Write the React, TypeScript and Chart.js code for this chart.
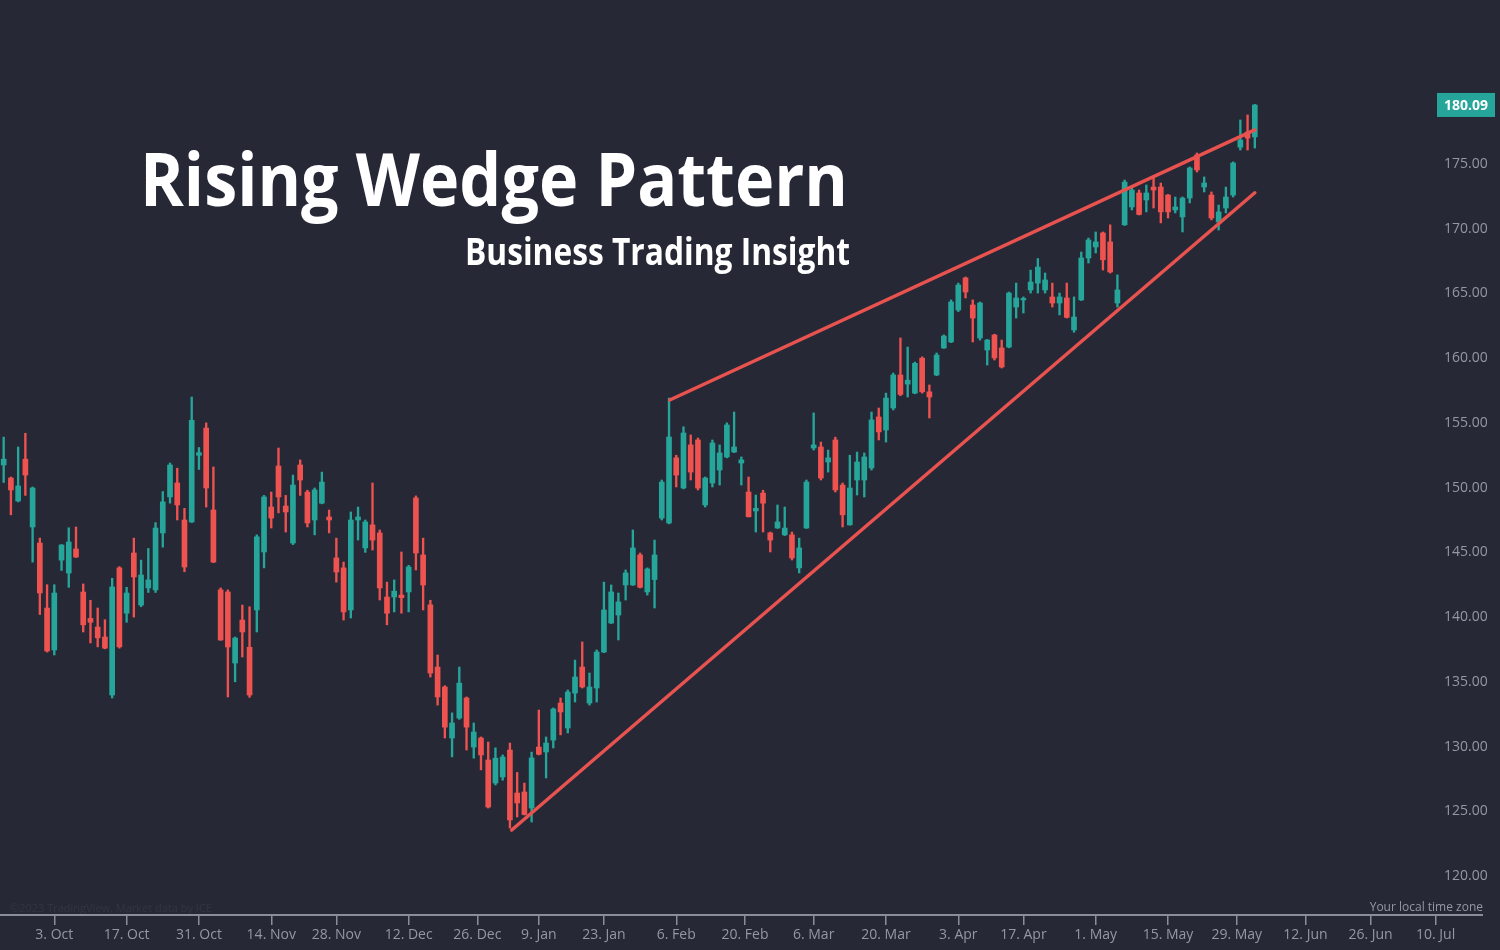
import { useEffect, useRef } from "react";
import { Chart, registerables } from "chart.js";

Chart.register(...registerables);

// Trading-day index of the first candle (3 Oct 2022 = 0)
const FIRST_DAY = -7;

const opens = [
  151.75, 150.74, 148.97, 152.2, 146.96, 145.72, 140.7, 137.46, 144.4, 143.4,
  145.26, 141.94, 139.9, 139.23, 138.46, 133.98, 143.8, 140.3, 144.95, 140.93,
  142.25, 142.1, 146.5, 149.28, 150.36, 147.5, 147.35, 152.5, 154.6, 148.27,
  142.1, 141.94, 136.45, 139.77, 137.67, 140.55, 145.03, 148.5, 151.67, 148.58,
  145.72, 151.75, 149.66, 147.5, 148.8, 147.73, 144.57, 143.8, 140.55, 147.5,
  145.34, 147.12, 146.5, 141.55, 141.55, 141.7, 141.94, 149.2, 144.8, 140.95,
  136.14, 134.6, 130.66, 132.2, 133.75, 129.96, 130.66, 128.96, 127.18, 127.65,
  129.73, 126.41, 126.49, 125.25, 129.96, 129.58, 130.5, 133.36, 131.43, 134.13,
  136.14, 133.36, 134.52, 137.3, 139.54, 140.16, 142.48, 142.48, 144.8, 141.94,
  142.9, 147.65, 147.27, 152.3, 149.97, 153.3, 153.68, 148.66, 150.36, 151.36,
  152.37, 152.75, 151.9, 149.66, 148.2, 149.58, 146.5, 146.88, 146.35, 146.35,
  143.8, 146.88, 153.06, 153.14, 151.98, 153.68, 150.2, 147.12, 150.59, 150.59,
  151.52, 155.46, 154.45, 156.15, 158.7, 158.0, 157.3, 160.0, 157.4, 158.7,
  160.79, 161.25, 163.72, 166.2, 164.11, 161.56, 160.63, 161.79, 160.79, 160.86,
  163.95, 164.5, 165.27, 165.8, 165.27, 164.73, 164.26, 164.65, 162.18, 164.5,
  167.74, 168.59, 169.67, 168.98, 164.26, 170.3, 171.68, 172.76, 172.22, 173.22,
  173.22, 172.6, 171.45, 170.91, 172.37, 175.7, 173.22, 172.6, 170.52, 171.6,
  172.6, 176.3, 177.47, 177.09,
];

const highs = [
  153.9, 150.82, 153.14, 154.2, 150.05, 146.1, 142.5, 142.5, 145.6, 146.9,
  146.96, 142.56, 141.3, 140.7, 139.8, 143.0, 143.9, 142.3, 146.1, 144.4,
  145.3, 147.3, 149.7, 151.9, 151.5, 148.4, 157.0, 153.1, 155.0, 151.6,
  142.25, 142.1, 138.46, 140.93, 140.8, 146.35, 149.4, 149.66, 153.06, 149.4,
  150.97, 152.14, 149.8, 149.97, 151.2, 148.27, 146.1, 144.25, 148.12, 148.5,
  147.5, 150.36, 146.73, 142.7, 142.87, 145.03, 144.0, 149.36, 146.1, 141.3,
  137.07, 134.7, 132.6, 136.14, 133.83, 131.82, 130.74, 130.35, 129.9, 129.35,
  130.27, 128.0, 127.18, 129.57, 132.82, 130.74, 132.98, 133.75, 134.37, 136.68,
  138.08, 135.68, 137.46, 142.7, 142.48, 141.86, 143.64, 146.73, 144.95, 143.8,
  145.95, 150.59, 156.92, 152.5, 154.7, 154.07, 153.83, 150.82, 153.68, 153.3,
  155.0, 155.84, 152.37, 150.82, 149.43, 149.8, 146.57, 148.66, 148.5, 146.57,
  146.1, 150.59, 155.77, 153.52, 152.9, 153.9, 150.36, 152.5, 152.75, 152.68,
  155.84, 156.15, 157.3, 158.85, 161.56, 160.86, 159.7, 160.1, 157.93, 160.4,
  161.8, 164.5, 165.8, 166.27, 164.5, 164.34, 161.45, 161.85, 161.4, 165.11,
  165.8, 164.73, 166.8, 167.7, 166.58, 165.8, 165.03, 165.8, 164.73, 168.2,
  169.28, 169.75, 169.75, 170.3, 166.43, 173.76, 173.15, 172.99, 173.38, 174.0,
  173.53, 172.65, 172.45, 172.45, 174.77, 175.85, 174.0, 172.84, 171.83, 173.22,
  175.16, 178.4, 178.79, 179.6,
];

const lows = [
  150.4, 147.9, 148.9, 149.4, 144.25, 140.2, 137.3, 137.07, 143.6, 142.3,
  144.6, 138.85, 138.0, 137.7, 137.55, 133.75, 137.6, 139.6, 140.0, 140.8,
  141.9, 141.9, 145.4, 148.8, 147.5, 143.5, 147.3, 151.4, 148.5, 144.2,
  138.2, 133.83, 135.0, 136.92, 133.8, 138.85, 143.8, 146.88, 148.05, 146.57,
  145.6, 149.4, 146.96, 146.35, 148.75, 146.5, 142.7, 139.77, 139.93, 145.95,
  145.0, 145.18, 141.32, 139.4, 140.4, 140.3, 140.4, 143.64, 140.55, 135.37,
  133.2, 130.66, 129.2, 132.1, 129.73, 129.1, 128.2, 125.25, 127.03, 127.4,
  123.7, 124.56, 124.71, 124.17, 129.35, 127.57, 129.89, 130.9, 131.05, 133.44,
  134.52, 133.2, 133.44, 137.25, 139.5, 138.23, 141.32, 142.45, 142.25, 141.7,
  140.7, 147.5, 147.2, 150.05, 149.9, 150.59, 149.82, 148.5, 150.05, 150.2,
  152.3, 152.7, 150.2, 147.73, 146.57, 146.57, 145.03, 146.85, 146.3, 144.41,
  143.41, 146.85, 152.9, 150.59, 151.2, 149.66, 146.96, 147.1, 149.43, 149.28,
  151.36, 153.68, 153.52, 156.0, 157.1, 157.0, 157.25, 157.3, 155.38, 158.65,
  160.75, 161.2, 163.6, 164.65, 161.25, 161.4, 159.47, 159.86, 159.24, 160.8,
  163.1, 163.49, 165.03, 165.03, 165.03, 163.95, 163.34, 163.1, 162.0, 164.45,
  167.35, 168.13, 166.81, 166.58, 163.95, 170.25, 171.45, 171.06, 171.3, 171.6,
  170.45, 170.83, 171.22, 169.75, 171.99, 174.38, 172.84, 170.68, 169.9, 171.22,
  172.45, 176.08, 176.08, 176.23,
];

const closes = [
  152.2, 149.82, 150.13, 150.97, 149.97, 141.86, 137.38, 141.86, 145.57, 145.8,
  144.64, 139.4, 139.6, 138.4, 137.6, 142.33, 137.7, 141.86, 143.1, 143.25,
  142.87, 146.88, 148.9, 151.75, 148.66, 143.87, 155.2, 152.7, 149.97, 144.25,
  138.23, 137.69, 138.38, 138.85, 133.98, 146.2, 149.28, 147.65, 149.28, 148.12,
  150.2, 150.59, 147.27, 149.82, 150.43, 147.5, 143.48, 140.4, 147.5, 147.73,
  147.35, 145.95, 142.25, 140.3, 142.0, 141.5, 143.87, 144.95, 142.48, 135.68,
  133.83, 131.5, 131.82, 134.9, 131.5, 131.12, 129.35, 125.33, 129.1, 129.19,
  124.33, 125.64, 124.75, 129.12, 129.4, 130.27, 132.9, 132.67, 134.21, 135.37,
  134.6, 134.6, 137.3, 140.55, 141.94, 141.17, 143.41, 145.34, 142.3, 143.72,
  144.8, 150.43, 153.91, 150.97, 154.22, 151.2, 149.97, 150.74, 153.45, 152.68,
  154.84, 153.14, 152.14, 147.75, 148.4, 148.8, 145.95, 147.35, 146.88, 144.57,
  145.34, 150.43, 153.3, 150.74, 152.3, 149.82, 147.9, 149.97, 151.98, 152.37,
  155.23, 154.3, 156.92, 158.7, 157.2, 158.3, 159.6, 157.4, 157.0, 160.24,
  161.71, 164.34, 165.65, 165.11, 163.1, 164.26, 161.4, 160.02, 159.32, 165.03,
  164.65, 164.6, 165.88, 167.04, 166.04, 164.26, 164.73, 163.15, 163.18, 167.74,
  169.13, 168.98, 167.6, 166.66, 165.27, 173.6, 172.99, 171.1, 172.76, 172.99,
  171.3, 171.3, 171.68, 172.37, 174.69, 174.54, 173.53, 170.83, 171.3, 172.45,
  175.08, 176.85, 177.0, 179.56,
];

// Date ticks on the trading-day axis
const xTickPositions = [0, 10, 20, 30, 39, 49, 58.5, 67, 76, 86, 95.5, 105, 115, 125, 134, 144, 154, 163.5, 173, 182, 191];
const xTickLabels = [
  "3. Oct", "17. Oct", "31. Oct", "14. Nov", "28. Nov", "12. Dec", "26. Dec",
  "9. Jan", "23. Jan", "6. Feb", "20. Feb", "6. Mar", "20. Mar", "3. Apr",
  "17. Apr", "1. May", "15. May", "29. May", "12. Jun", "26. Jun", "10. Jul",
];
const yTickValues = [120, 125, 130, 135, 140, 145, 150, 155, 160, 165, 170, 175];

// Wedge trend lines (trading-day index, price)
const upperWedge = [
  { x: 85.1, y: 156.77 },
  { x: 166.0, y: 177.63 },
];
const lowerWedge = [
  { x: 63.25, y: 123.55 },
  { x: 166.0, y: 172.78 },
];

const lastPriceLabel = "180.09";
const titleText = "Rising Wedge Pattern";
const subtitleText = "Business Trading Insight";

const BG = "#262836";
const UP = "#26a69a";
const DOWN = "#ef5350";
const WEDGE = "#e8524f";
const AXIS = "#8b8e99";
const TEXT = "#9598a3";

const X_MIN = -7.508;
const X_MAX = 191.33;
const Y_MIN = 116.987;
const Y_MAX = 187.668;

export default function App() {
  const canvasRef = useRef<HTMLCanvasElement | null>(null);

  useEffect(() => {
    document.body.style.margin = "0";
    document.body.style.background = BG;
    const canvas = canvasRef.current;
    if (!canvas) return;

    const days = opens.map((_, i) => FIRST_DAY + i);
    const colors = days.map((_, i) => (closes[i] >= opens[i] ? UP : DOWN));

    const decor = {
      id: "decor",
      beforeDraw(chart: any) {
        const ctx = chart.ctx;
        ctx.save();
        ctx.fillStyle = BG;
        ctx.fillRect(0, 0, chart.width, chart.height);
        ctx.restore();
      },
      afterDraw(chart: any) {
        const ctx = chart.ctx;
        const area = chart.chartArea;
        const yScale = chart.scales.y;
        ctx.save();
        // x axis line
        ctx.strokeStyle = AXIS;
        ctx.lineWidth = 2;
        ctx.beginPath();
        ctx.moveTo(0, area.bottom);
        ctx.lineTo(1483, area.bottom);
        ctx.stroke();

        // watermark + time zone note
        ctx.font = '11px "Open Sans"';
        ctx.textBaseline = "alphabetic";
        ctx.fillStyle = "rgba(255,255,255,0.06)";
        ctx.textAlign = "left";
        ctx.fillText("©2023 TradingView, Market data by ICE", 10, area.bottom - 3);
        ctx.fillStyle = TEXT;
        ctx.font = '12px "Open Sans"';
        ctx.textAlign = "right";
        ctx.fillText("Your local time zone", 1483, area.bottom - 4);

        // last price badge
        const lastClose = closes[closes.length - 1];
        const py = yScale.getPixelForValue(lastClose);
        ctx.fillStyle = UP;
        ctx.fillRect(1437, py - 12, 58, 24);
        ctx.fillStyle = "#ffffff";
        ctx.font = 'bold 14px "Open Sans"';
        ctx.textAlign = "center";
        ctx.textBaseline = "middle";
        ctx.fillText(lastPriceLabel, 1466, py + 1);

        // titles
        ctx.fillStyle = "#ffffff";
        ctx.textBaseline = "alphabetic";
        ctx.textAlign = "left";
        ctx.font = 'bold 74px "Open Sans"';
        ctx.fillText(titleText, 140, 206, 708);
        ctx.font = 'bold 37px "Open Sans"';
        ctx.fillText(subtitleText, 465, 265, 385);
        ctx.restore();
      },
    };

    const chart = new Chart(canvas, {
      type: "bar",
      data: {
        datasets: [
          {
            type: "line",
            data: upperWedge,
            borderColor: WEDGE,
            borderWidth: 3.5,
            pointRadius: 0,
            borderCapStyle: "round",
            order: 0,
          } as any,
          {
            type: "line",
            data: lowerWedge,
            borderColor: WEDGE,
            borderWidth: 3.5,
            pointRadius: 0,
            borderCapStyle: "round",
            order: 0,
          } as any,
          {
            type: "bar",
            data: days.map((d, i) => ({ x: d, y: [opens[i], closes[i]] })),
            backgroundColor: colors,
            barThickness: 5,
            grouped: false,
            minBarLength: 1.5,
            order: 1,
          } as any,
          {
            type: "bar",
            data: days.map((d, i) => ({ x: d, y: [lows[i], highs[i]] })),
            backgroundColor: colors,
            barThickness: 1.7,
            grouped: false,
            order: 2,
          } as any,
        ],
      },
      options: {
        responsive: false,
        animation: false,
        devicePixelRatio: 1,
        layout: { padding: 0 },
        font: { family: "Open Sans" },
        plugins: {
          legend: { display: false },
          tooltip: { enabled: false },
          title: { display: false },
        },
        scales: {
          x: {
            type: "linear",
            min: X_MIN,
            max: X_MAX,
            offset: false,
            grid: {
              display: true,
              offset: false,
              drawOnChartArea: false,
              drawTicks: true,
              tickLength: 10,
              color: AXIS,
              lineWidth: 1.5,
            },
            border: { display: false },
            ticks: {
              autoSkip: false,
              maxRotation: 0,
              minRotation: 0,
              padding: 2,
              color: TEXT,
              font: { family: "Open Sans", size: 14 },
              callback: (_v: any, i: number) => xTickLabels[i] ?? "",
            },
            afterBuildTicks: (s: any) => {
              s.ticks = xTickPositions.map((v) => ({ value: v }));
            },
            afterFit: (s: any) => {
              s.height = 35;
              s.paddingLeft = 0;
              s.paddingRight = 0;
            },
          },
          y: {
            type: "linear",
            position: "right",
            min: Y_MIN,
            max: Y_MAX,
            grid: { display: false, drawTicks: false },
            border: { display: false },
            ticks: {
              padding: 6,
              color: TEXT,
              font: { family: "Open Sans", size: 14 },
              callback: (v: any) => Number(v).toFixed(2),
            },
            afterBuildTicks: (s: any) => {
              s.ticks = yTickValues.map((v) => ({ value: v }));
            },
            afterFit: (s: any) => {
              s.width = 62;
              s.paddingTop = 0;
              s.paddingBottom = 0;
            },
          },
        },
      } as any,
      plugins: [decor],
    });

    return () => chart.destroy();
  }, []);

  return (
    <div style={{ width: 1500, height: 950, background: BG }}>
      <canvas ref={canvasRef} width={1500} height={950} style={{ display: "block" }} />
    </div>
  );
}
